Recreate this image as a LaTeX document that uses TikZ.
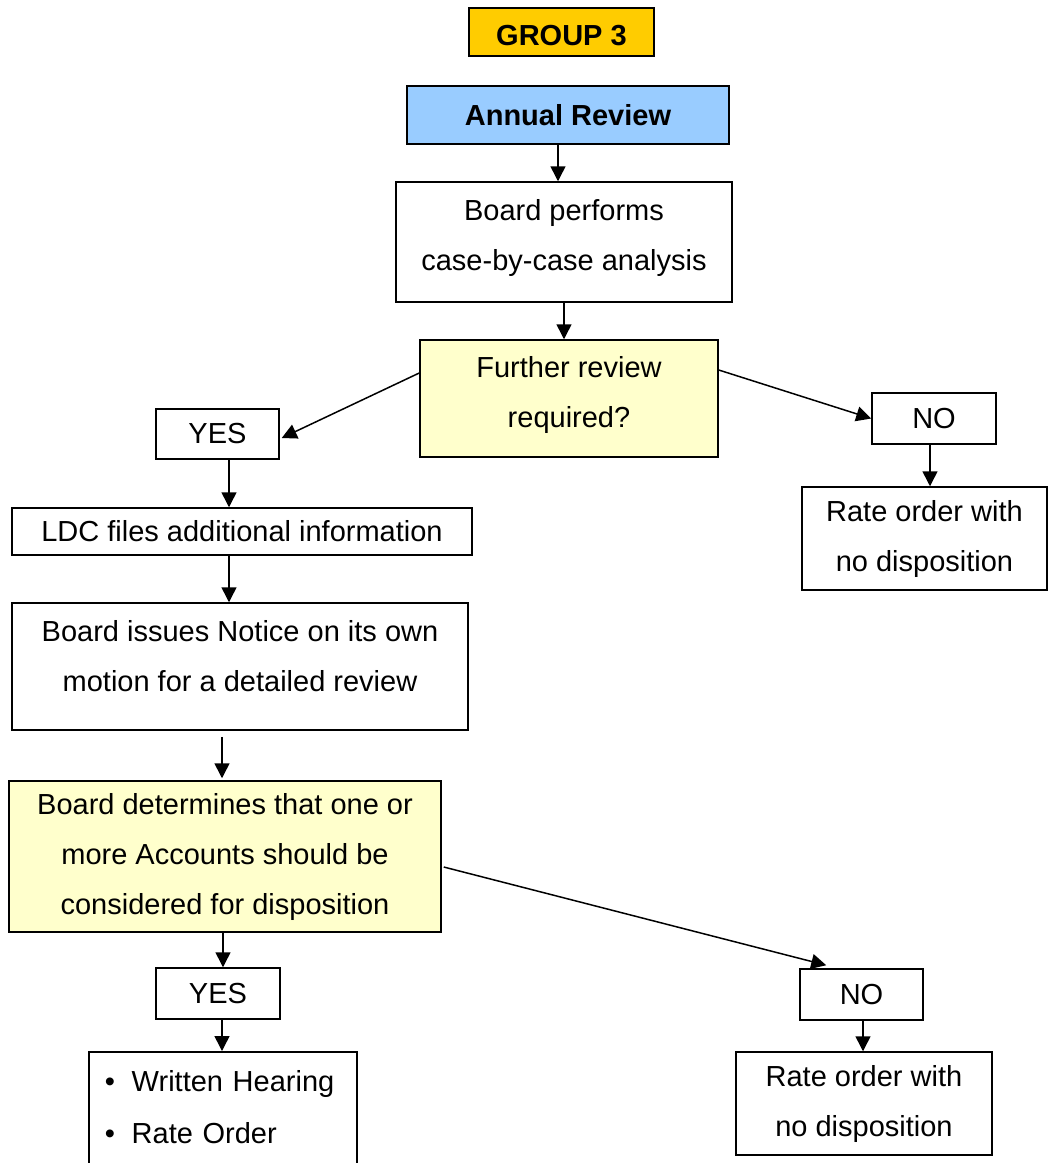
\documentclass[tikz,border=0pt]{standalone}
\usepackage{fontspec}
\setmainfont{Liberation Sans}
\usetikzlibrary{arrows.meta}
\definecolor{gold}{HTML}{FFCC00}
\definecolor{skyb}{HTML}{99CCFF}
\definecolor{paley}{HTML}{FFFFCC}
\newcommand{\dnsp}[1]{\rule[-#1pt]{0pt}{#1pt}}
\newcommand{\bul}{\makebox[27pt][l]{\textbullet}}
\begin{document}
\begin{tikzpicture}[x=1pt,y=-1pt,
  box/.style={draw, line width=1.5pt, inner sep=0pt, align=center,
    font=\fontsize{29pt}{50pt}\selectfont},
  arr/.style={line width=1.5pt, -{Triangle[width=15pt,length=15pt]}}]
\useasboundingbox (0,0) rectangle (1049,1163);
\clip (0,0) rectangle (1049,1163);
\fill[white] (0,0) rectangle (1049,1163);

\node[box, fill=gold, minimum width=185pt, minimum height=48pt] (g3) at (561.5,32) {\rule{0pt}{28pt}\bfseries GROUP 3};
\node[box, fill=skyb, minimum width=322pt, minimum height=58pt] (ar) at (568,115) {\bfseries Annual Review};
\node[box, minimum width=336pt, minimum height=120pt] (bp) at (564,242) {Board performs\\case-by-case analysis\dnsp{14}};
\node[box, fill=paley, minimum width=298pt, minimum height=117pt] (fr) at (569,398.5) {Further review\\required?\dnsp{13}};
\node[box, minimum width=123pt, minimum height=50pt] (yes1) at (217.5,434) {YES};
\node[box, minimum width=124pt, minimum height=51pt] (no1) at (934,418.5) {NO};
\node[box, minimum width=245pt, minimum height=103pt] (ro1) at (924.5,538.5) {Rate order with\\no disposition};
\node[box, minimum width=460pt, minimum height=47pt] (ldc) at (242,531.5) {LDC files additional information};
\node[box, minimum width=456pt, minimum height=127pt] (bi) at (240,666.5) {Board issues Notice on its own\\motion for a detailed review\dnsp{22}};
\node[box, fill=paley, minimum width=432pt, minimum height=151pt] (bd) at (225,856.5) {Board determines that one or\\more Accounts should be\\considered for disposition};
\node[box, minimum width=124pt, minimum height=51pt] (yes2) at (218,993.5) {YES};
\node[box, minimum width=123pt, minimum height=51pt] (no2) at (861.5,994.5) {NO};
\node[box, minimum width=256pt, minimum height=103pt] (ro2) at (864,1103.5) {Rate order with\\no disposition};
\node[box, align=left, anchor=north west, minimum width=268pt, inner xsep=16pt, inner ysep=18.5pt, text width=236pt,
  font=\fontsize{29pt}{52pt}\selectfont] (bl) at (88,1051) {\bul Written Hearing\\\bul Rate Order\dnsp{30}};

\draw[arr] ([xshift=-10pt]ar.south) -- ([xshift=-10pt]ar.south |- bp.north);
\draw[arr] (bp.south) -- (bp.south |- fr.north);
\draw[arr] ([yshift=25.5pt]fr.west) -- ([xshift=2pt,yshift=-4pt]yes1.east);
\draw[arr] ([yshift=28.5pt]fr.east) -- (no1.west);
\draw[arr] ([xshift=11.5pt]yes1.south) -- ([xshift=11.5pt]yes1.south |- ldc.north);
\draw[arr] ([xshift=-4pt]no1.south) -- ([xshift=-4pt]no1.south |- ro1.north);
\draw[arr] ([xshift=-13pt]ldc.south) -- ([xshift=-13pt]ldc.south |- bi.north);
\draw[arr] ([xshift=-18pt,yshift=-6pt]bi.south) -- ([xshift=-3pt,yshift=2pt]bd.north);
\draw[arr] ([xshift=-2pt]bd.south) -- ([xshift=-2pt]bd.south |- yes2.north);
\draw[arr] ([xshift=2pt,yshift=-10.5pt]bd.east) -- ([xshift=27pt,yshift=3pt]no2.north west);
\draw[arr] ([xshift=4pt]yes2.south) -- ([xshift=4pt]yes2.south |- bl.north);
\draw[arr] ([xshift=1.5pt]no2.south) -- ([xshift=1.5pt]no2.south |- ro2.north);
\end{tikzpicture}
\end{document}
